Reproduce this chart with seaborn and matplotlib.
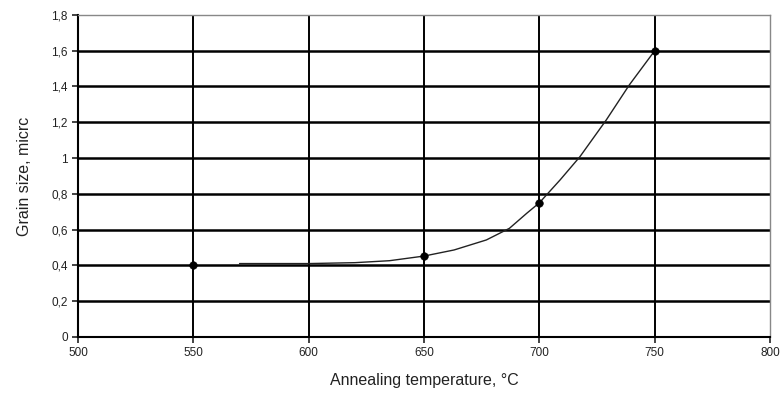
import seaborn as sns
import matplotlib.pyplot as plt
import numpy as np

# measured points
temperature = [550, 650, 700, 750]
grain_size = [0.4, 0.45, 0.75, 1.6]

# trend curve
curve_t = [570, 600, 620, 635, 650, 663, 677, 687, 694.5, 700, 709, 717.6, 729, 739, 750]
curve_g = [0.41, 0.41, 0.415, 0.426, 0.452, 0.486, 0.542, 0.607, 0.691, 0.75,
           0.878, 1.008, 1.213, 1.409, 1.6]

x_ticks = [500, 550, 600, 650, 700, 750, 800]
y_ticks = [0, 0.2, 0.4, 0.6, 0.8, 1.0, 1.2, 1.4, 1.6, 1.8]
y_labels = ['0', '0,2', '0,4', '0,6', '0,8', '1', '1,2', '1,4', '1,6', '1,8']

sns.set_style("white")
plt.rcParams['font.family'] = ['Liberation Sans', 'DejaVu Sans']

fig = plt.figure(figsize=(7.81, 4.03), dpi=100)
ax = fig.add_axes([0.100, 0.164, 0.886, 0.799])

for yv in y_ticks[1:-1]:
    ax.axhline(yv, color='black', lw=1.8, zorder=1)
for xv in x_ticks[1:-1]:
    ax.axvline(xv, color='black', lw=1.4, zorder=1)

sns.lineplot(x=curve_t, y=curve_g, ax=ax, color='#222222', lw=1.0, zorder=2)
sns.scatterplot(x=temperature, y=grain_size, ax=ax, color='black', s=30,
                marker='o', edgecolor='black', zorder=3)

ax.set_xlim(500, 800)
ax.set_ylim(0, 1.8)
ax.set_xticks(x_ticks)
ax.set_yticks(y_ticks)
ax.set_yticklabels(y_labels)
ax.tick_params(axis='both', labelsize=8.5, colors='#222222', length=4,
               direction='out', width=1.2)
ax.tick_params(axis='both', left=True, bottom=True)

for side in ['left', 'bottom']:
    ax.spines[side].set_color('black')
    ax.spines[side].set_linewidth(1.5)
for side in ['top', 'right']:
    ax.spines[side].set_color('#888888')
    ax.spines[side].set_linewidth(1.0)

ax.set_xlabel('Annealing temperature, °C', fontsize=11.5, color='#222222', labelpad=10)
ax.set_ylabel('Grain size, micrc', fontsize=11.5, color='#222222', labelpad=14)

plt.savefig('out.png', dpi=100)
